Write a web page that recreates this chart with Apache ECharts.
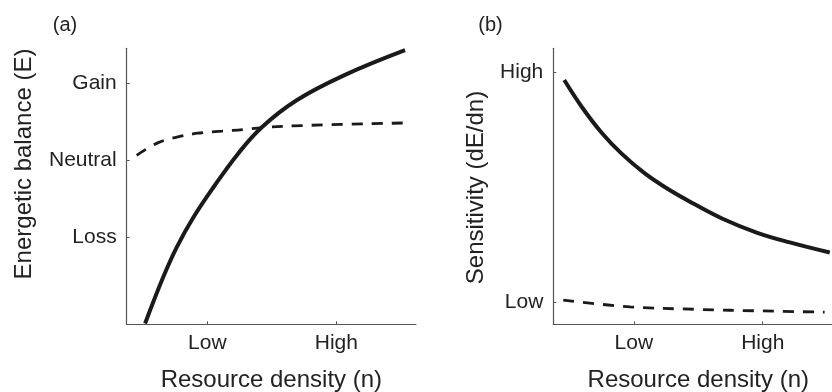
<!DOCTYPE html>
<html>
<head>
<meta charset="utf-8">
<script src="https://cdn.jsdelivr.net/npm/echarts@6/dist/echarts.min.js"></script>
<style>
html,body{margin:0;padding:0;background:#fff;}
#chart{width:832px;height:392px;}
</style>
</head>
<body>
<div id="chart"></div>
<script>
// ---- data ----
const xTickValues = [2.5, 6.5];
const xTickLabels = ['Low', 'High'];

const yTickValuesA = [-1, 0, 1];
const yTickLabelsA = ['Loss', 'Neutral', 'Gain'];

const yTickValuesB = [0, 1];
const yTickLabelsB = ['Low', 'High'];

// Panel (a): energetic balance
const solidA_x = [0.57, 1.13, 1.55, 2.07, 2.69, 3.46, 4.19, 5.27, 6.72, 8.63];
const solidA_y = [-2.12, -1.52, -1.13, -0.74, -0.35, 0.09, 0.43, 0.78, 1.10, 1.43];
const dashA_x = [0.31, 0.98, 1.65, 2.27, 2.95, 3.62, 4.19, 5.68, 8.63];
const dashA_y = [0.065, 0.23, 0.31, 0.355, 0.38, 0.40, 0.425, 0.455, 0.485];

// Panel (b): sensitivity
const solidB_x = [0.34, 0.88, 1.50, 2.12, 2.84, 3.57, 4.36, 5.27, 6.31, 7.34, 8.58];
const solidB_y = [0.964, 0.848, 0.735, 0.644, 0.558, 0.489, 0.426, 0.360, 0.301, 0.258, 0.214];
const dashB_x = [0.31, 2.38, 4.45, 6.51, 8.42];
const dashB_y = [0.007, -0.022, -0.033, -0.040, -0.045];

const titles = {
  a: '(a)', b: '(b)',
  xName: 'Resource density (n)',
  yNameA: 'Energetic balance (E)',
  yNameB: 'Sensitivity (dE/dn)'
};

// ---- build ----
const FONT = 'Liberation Sans, Arial, Helvetica, sans-serif';
const TXT = '#222';
const AX = '#555';
const zip = (xs, ys) => xs.map((x, i) => [x, ys[i]]);

function xAxisCfg(gridIndex, max) {
  return {
    type: 'value', gridIndex, min: 0, max,
    name: titles.xName, nameLocation: 'middle', nameGap: 44,
    nameTextStyle: { fontSize: 24, color: TXT, fontFamily: FONT },
    axisLine: { show: true, onZero: false, lineStyle: { color: AX, width: 1.2 } },
    axisTick: { show: true, inside: true, length: 3, customValues: xTickValues, lineStyle: { color: AX } },
    axisLabel: {
      customValues: xTickValues, margin: 8, fontSize: 21, color: TXT, fontFamily: FONT,
      formatter: v => xTickLabels[xTickValues.indexOf(v)] || ''
    },
    splitLine: { show: false }
  };
}
function yAxisCfg(gridIndex, min, max, vals, labels) {
  return {
    type: 'value', gridIndex, min, max,
    axisLine: { show: true, onZero: false, lineStyle: { color: AX, width: 1.2 } },
    axisTick: { show: true, inside: true, length: 3, customValues: vals, lineStyle: { color: AX } },
    axisLabel: {
      customValues: vals, margin: 10, fontSize: 21, color: TXT, fontFamily: FONT,
      formatter: v => labels[vals.indexOf(v)] || ''
    },
    splitLine: { show: false }
  };
}
function lineSeries(xi, yi, data, dashed) {
  return {
    type: 'line', xAxisIndex: xi, yAxisIndex: yi, data,
    smooth: 0.4, showSymbol: false, symbol: 'none', silent: true,
    lineStyle: dashed
      ? { color: '#1a1a1a', width: 2.8, type: [11, 9], cap: 'butt' }
      : { color: '#1a1a1a', width: 4, cap: 'butt' }
  };
}

const chart = echarts.init(document.getElementById('chart'), null, { renderer: 'canvas' });
chart.setOption({
  animation: false,
  backgroundColor: '#fff',
  grid: [
    { left: 126.7, top: 48.3, width: 289.3, height: 276, outerBoundsMode: 'none', containLabel: false },
    { left: 553.3, top: 48.3, width: 290, height: 276, outerBoundsMode: 'none', containLabel: false }
  ],
  xAxis: [xAxisCfg(0, 8.97), xAxisCfg(1, 9)],
  yAxis: [
    yAxisCfg(0, -2.13, 1.455, yTickValuesA, yTickLabelsA),
    yAxisCfg(1, -0.098, 1.102, yTickValuesB, yTickLabelsB)
  ],
  series: [
    lineSeries(0, 0, zip(dashA_x, dashA_y), true),
    lineSeries(0, 0, zip(solidA_x, solidA_y), false),
    lineSeries(1, 1, zip(dashB_x, dashB_y), true),
    lineSeries(1, 1, zip(solidB_x, solidB_y), false)
  ],
  graphic: [
    { type: 'text', x: 65, y: 25.5, style: { text: titles.a, font: '20px ' + FONT, fill: TXT, align: 'center', verticalAlign: 'middle' } },
    { type: 'text', x: 490.5, y: 25.5, style: { text: titles.b, font: '20px ' + FONT, fill: TXT, align: 'center', verticalAlign: 'middle' } },
    { type: 'text', x: 24, y: 164, rotation: Math.PI / 2, style: { text: titles.yNameA, font: '24px ' + FONT, fill: TXT, align: 'center', verticalAlign: 'middle' } },
    { type: 'text', x: 476.5, y: 187.5, rotation: Math.PI / 2, style: { text: titles.yNameB, font: '24px ' + FONT, fill: TXT, align: 'center', verticalAlign: 'middle' } }
  ]
});
</script>
</body>
</html>
